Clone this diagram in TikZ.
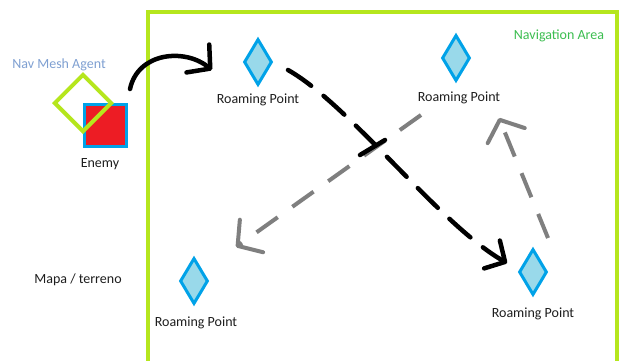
\documentclass[tikz,border=0pt]{standalone}
\usepackage{fontspec}
\setmainfont{Carlito}
\usetikzlibrary{arrows.meta,shapes.geometric}
\definecolor{limeg}{RGB}{181,230,29}
\definecolor{rpfill}{RGB}{153,217,234}
\definecolor{rpline}{RGB}{0,162,232}
\definecolor{enred}{RGB}{237,28,36}
\definecolor{navblue}{RGB}{127,160,210}
\definecolor{navgreen}{RGB}{60,190,80}
\definecolor{arrgray}{RGB}{127,127,127}
\definecolor{txt}{RGB}{30,30,30}
\begin{document}
\begin{tikzpicture}[x=1pt,y=-1pt,
  lbl/.style={font=\fontsize{14}{16}\selectfont, text=txt, inner sep=0pt},
  rp/.style={diamond, draw=rpline, fill=rpfill, line width=3pt, minimum width=28pt, minimum height=46pt, inner sep=0pt},
  blk/.style={black, line width=4.5pt, line cap=round},
  gry/.style={arrgray, line width=4pt, dash pattern=on 26pt off 18pt},
  tipc/.style={-{Straight Barb[length=16pt,width=36pt,line cap=round,line join=round]}},
  tipb/.style={-{Straight Barb[length=15pt,width=32pt,line cap=round,line join=round]}},
  tipg/.style={-{Straight Barb[length=17pt,width=40pt,line cap=round,line join=round]}}]
\useasboundingbox (0,0) rectangle (623,360);
\clip (0,0) rectangle (623,360);
\fill[white] (0,0) rectangle (623,360);
% navigation area frame
\draw[limeg, line width=4pt] (148,12) rectangle (617,390);
\node[lbl, text=navgreen] (navarea) at (559,36) {Navigation Area};
% enemy
\node[draw=rpline, fill=enred, line width=3pt, minimum size=42pt, inner sep=0pt] (enemy) at (105.5,125.5) {};
\node[diamond, draw=limeg, line width=4pt, minimum width=58pt, minimum height=58pt, inner sep=0pt] (agent) at (83,103) {};
\node[lbl, text=navblue] (agentlbl) at (59,65) {Nav Mesh Agent};
\node[lbl] (enemylbl) at (100,164) {Enemy};
\node[lbl] (mapa) at (78,280) {Mapa / terreno};
% roaming points
\node[rp] (rp1) at (258,62) {};
\node[lbl] (rp1lbl) at (258,100) {Roaming Point};
\node[rp] (rp2) at (456,58) {};
\node[lbl] (rp2lbl) at (459,98) {Roaming Point};
\node[rp] (rp3) at (194,281) {};
\node[lbl] (rp3lbl) at (196,323) {Roaming Point};
\node[rp] (rp4) at (533,272) {};
\node[lbl] (rp4lbl) at (533,314) {Roaming Point};
% connector end points
\coordinate (c0) at (130,89);
\coordinate (c1) at (212,70);
\coordinate (d0) at (288,70);
\coordinate (d1) at (507,263);
\coordinate (g0) at (421,115);
\coordinate (g1) at (236,247);
\coordinate (h0) at (548,238);
\coordinate (h1) at (499,118);
\coordinate (k0) at (360,155);
\coordinate (k1) at (385,140);
% connectors
\draw[blk, tipc] (c0) .. controls (138,52) and (185,48) .. (c1);
\draw[gry, tipg] (g0) -- (g1);
\draw[gry, tipg] (h0) -- (h1);
\draw[blk, dash pattern=on 28pt off 16pt, tipb] (d0) .. controls (350,105) and (440,225) .. (d1);
\draw[blk] (k0) -- (k1);
\end{tikzpicture}
\end{document}
